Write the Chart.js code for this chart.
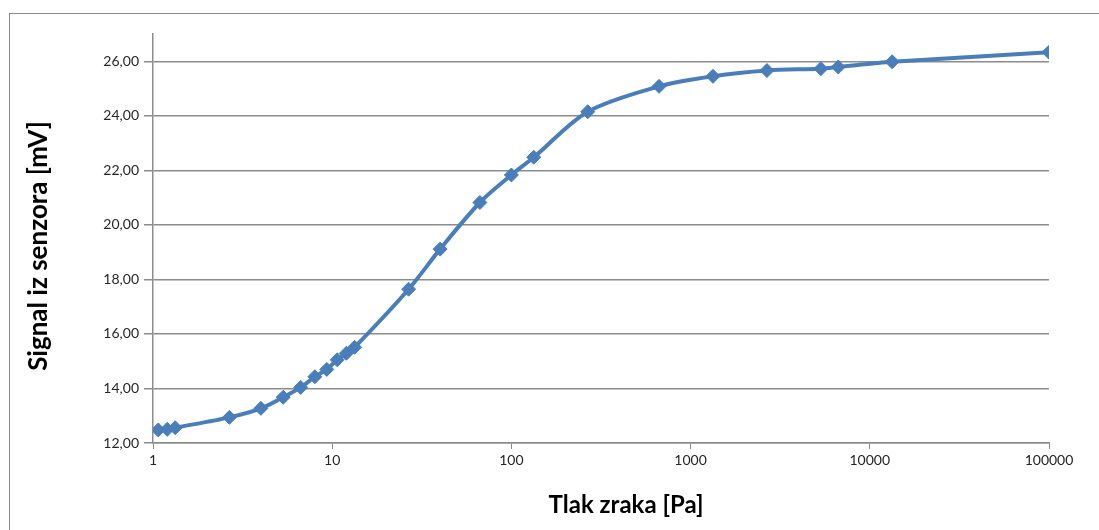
<!DOCTYPE html>
<html>
<head>
<meta charset="utf-8">
<script src="https://cdn.jsdelivr.net/npm/chart.js@4"></script>
<style>
  html, body { margin: 0; padding: 0; background: #fff; overflow: hidden; }
  #wrap { position: relative; width: 1099px; height: 530px; }
  #frame { position: absolute; left: 9px; top: 13px; width: 1200px; height: 600px; border: 1px solid #8a8a8a; pointer-events: none; }
  canvas { position: absolute; left: 0; top: 0; }
</style>
</head>
<body>
<div id="wrap">
  <div id="frame"></div>
  <canvas id="chart" width="1099" height="530"></canvas>
</div>
<script>
// tlak zraka [Pa] i signal iz senzora [mV]
const pressure = [1.07, 1.2, 1.33, 2.67, 4, 5.33, 6.67, 8, 9.33, 10.67, 12, 13.33, 26.7, 40, 66.7, 100, 133.3, 266.7, 666.7, 1333, 2667, 5333, 6667, 13333, 100000];
const signal = [12.48, 12.50, 12.56, 12.94, 13.27, 13.68, 14.04, 14.43, 14.70, 15.05, 15.29, 15.51, 17.64, 19.11, 20.82, 21.83, 22.48, 24.15, 25.08, 25.45, 25.66, 25.73, 25.79, 25.98, 26.33];
const xTicks = [1, 10, 100, 1000, 10000, 100000];
const yTicks = [12, 14, 16, 18, 20, 22, 24, 26];
const xTitle = 'Tlak zraka [Pa]';
const yTitle = 'Signal iz senzora [mV]';

const blue = '#4a7ebb';
const gridGray = '#8c8c8c';
const fontFam = 'Lato, "Open Sans", sans-serif';

// naslovi osi, crtani ručno da budu na istom mjestu kao u Excelu
const axisTitles = {
    id: 'axisTitles',
    afterDraw(chart) {
        const ctx = chart.ctx;
        ctx.save();
        ctx.fillStyle = '#000';
        ctx.textAlign = 'center';
        ctx.textBaseline = 'middle';
        ctx.font = 'bold 24px ' + fontFam;
        ctx.fillText(xTitle, 626, 505);
        ctx.font = 'bold 26px ' + fontFam;
        ctx.translate(39, 246);
        ctx.rotate(-Math.PI / 2);
        ctx.fillText(yTitle, 0, 0);
        ctx.restore();
    }
};

new Chart(document.getElementById('chart'), {
    type: 'line',
    data: {
        datasets: [{
            data: pressure.map((p, i) => ({ x: p, y: signal[i] })),
            borderColor: blue,
            backgroundColor: blue,
            borderWidth: 4,
            tension: 0.3,
            pointStyle: 'rectRot',
            pointRadius: 7,
            pointBorderWidth: 1,
            pointBorderColor: blue,
            pointBackgroundColor: blue
        }]
    },
    options: {
        responsive: false,
        animation: false,
        layout: { padding: { left: 0, right: 50, top: 34, bottom: 0 } },
        plugins: { legend: { display: false }, tooltip: { enabled: false } },
        scales: {
            x: {
                type: 'logarithmic',
                min: 1,
                max: 100000,
                afterBuildTicks: s => { s.ticks = xTicks.map(v => ({ value: v })); },
                afterFit: s => { s.height = 87; },
                border: { color: gridGray, width: 1.5 },
                grid: { drawOnChartArea: false, drawTicks: true, tickLength: 6, color: gridGray },
                ticks: {
                    color: '#262626',
                    font: { family: fontFam, size: 14 },
                    padding: 3,
                    maxRotation: 0,
                    callback: v => String(v)
                }
            },
            y: {
                min: 12,
                max: 27,
                afterBuildTicks: s => { s.ticks = yTicks.map(v => ({ value: v })); },
                afterFit: s => { s.width = 153; },
                border: { color: gridGray, width: 1.5 },
                grid: { color: gridGray, lineWidth: 1.5, tickLength: 9 },
                ticks: {
                    color: '#262626',
                    font: { family: fontFam, size: 14 },
                    padding: 5,
                    callback: v => v.toFixed(2).replace('.', ',')
                }
            }
        }
    },
    plugins: [axisTitles]
});
</script>
</body>
</html>
